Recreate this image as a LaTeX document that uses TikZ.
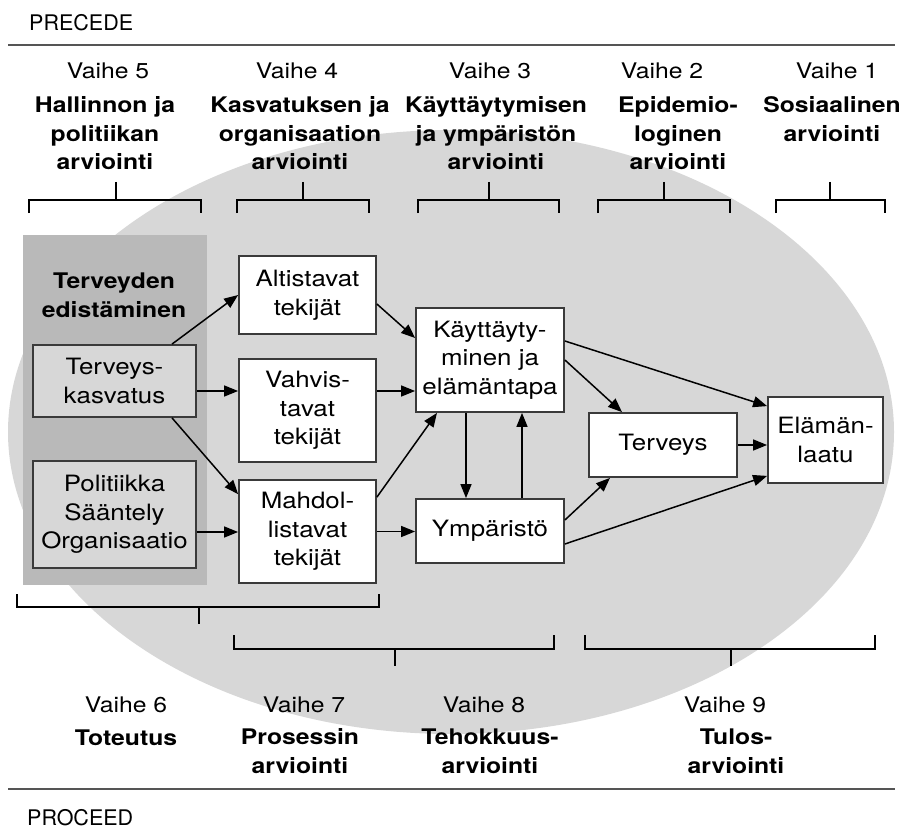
\documentclass[tikz,border=0pt]{standalone}
\usepackage{fontspec}
\setmainfont[FakeStretch=1.15]{TeX Gyre Heros}
\newfontfamily\sidefont{TeX Gyre Heros}
\usetikzlibrary{arrows.meta}

\definecolor{ellgray}{HTML}{D7D7D7}
\definecolor{panelgray}{HTML}{B9B9B9}
\definecolor{edgegray}{HTML}{3A3A3A}
\definecolor{rulegray}{HTML}{555555}
\newcommand\boxfont{\fontsize{22.5}{28.5}\selectfont}

\begin{document}
\begin{tikzpicture}[x=1pt,y=-1pt,
  box/.style={draw=edgegray, line width=1.8pt, fill=white, inner sep=0pt,
    align=center, font=\boxfont},
  graybox/.style={box, fill=ellgray},
  arr/.style={line width=1.5pt, -{Triangle[length=14pt,width=11pt]}},
  bracket/.style={line width=2.6pt, line cap=butt},
  phase/.style={anchor=base, inner sep=0pt, font=\fontsize{21.5}{28}\selectfont},
  stage/.style={anchor=base, inner sep=0pt, align=center,
    font=\fontsize{21.5}{28.5}\selectfont\bfseries},
  side/.style={anchor=base west, inner sep=0pt, font=\sidefont\fontsize{21.5}{24}\selectfont},
]
\useasboundingbox (0,0) rectangle (899,829);

% background ellipse and health promotion panel
\fill[ellgray] (451,432) ellipse [x radius=443, y radius=302];
\fill[panelgray] (23,235) rectangle (207,585);

% rules
\draw[rulegray, line width=2pt] (8,45) -- (895,45);
\draw[rulegray, line width=2pt] (8,789) -- (895,789);
\node[side] (precede) at (29,31) {PRECEDE};
\node[side] (proceed) at (27,825) {PROCEED};

% PRECEDE phases (stage nodes are anchored at the baseline of their last line)
\node[phase] (v5) at (108,79) {Vaihe 5};
\node[phase] (v4) at (297,79) {Vaihe 4};
\node[phase] (v3) at (490,79) {Vaihe 3};
\node[phase] (v2) at (662,79) {Vaihe 2};
\node[phase] (v1) at (837,79) {Vaihe 1};
\node[stage] (s5) at (105,170) {Hallinnon ja\\politiikan\\arviointi};
\node[stage] (s4) at (300,170) {Kasvatuksen ja\\organisaation\\arviointi};
\node[stage] (s3) at (496,170) {Käyttäytymisen\\ja ympäristön\\arviointi};
\node[stage] (s2) at (678,170) {Epidemio-\\loginen\\arviointi};
\node[stage] (s1) at (832,141.5) {Sosiaalinen\\arviointi};

% upper brackets
\foreach \l/\m/\r in {29/116/201, 237/303/369, 418/489/559, 598/664/730, 776/830/885}
  \draw[bracket] (\m,182) -- (\m,200) (\l,213) -- (\l,200) -- (\r,200) -- (\r,213);

% PROCEED phases
\node[phase] (v6) at (126,712) {Vaihe 6};
\node[phase] (v7) at (304,712) {Vaihe 7};
\node[phase] (v8) at (484,712) {Vaihe 8};
\node[phase] (v9) at (725,712) {Vaihe 9};
\node[stage] (s6) at (126,745) {Toteutus};
\node[stage] (s7) at (300,773) {Prosessin\\arviointi};
\node[stage] (s8) at (490,773) {Tehokkuus-\\arviointi};
\node[stage] (s9) at (736,773) {Tulos-\\arviointi};

% lower brackets
\draw[bracket] (17,594) -- (17,607) -- (379,607) -- (379,594) (199,607) -- (199,624);
\draw[bracket] (234,635) -- (234,649) -- (554,649) -- (554,635) (395,649) -- (395,666);
\draw[bracket] (585,635) -- (585,649) -- (875,649) -- (875,635) (731,649) -- (731,666);

% boxes
\node[stage] (promo) at (114,317) {Terveyden\\edistäminen};
\node[graybox, minimum width=163pt, minimum height=72pt] (tk) at (114.5,381) {Terveys-\\kasvatus};
\node[graybox, minimum width=163pt, minimum height=107pt] (pol) at (114.5,514.5) {Politiikka\\Sääntely\\Organisaatio};
\node[box, minimum width=137pt, minimum height=78pt] (alt) at (307.5,295) {Altistavat\\tekijät};
\node[box, minimum width=137pt, minimum height=103pt] (vahvis) at (307.5,410.5) {Vahvis-\\tavat\\tekijät};
\node[box, minimum width=137pt, minimum height=103pt] (mahdol) at (307.5,531.5) {Mahdol-\\listavat\\tekijät};
\node[box, minimum width=148pt, minimum height=104pt] (kayt) at (490,360) {Käyttäyty-\\minen ja\\elämäntapa};
\node[box, minimum width=148pt, minimum height=64pt] (ymp) at (490,531) {Ympäristö};
\node[box, minimum width=148pt, minimum height=64pt] (terv) at (663,445) {Terveys};
\node[box, minimum width=115pt, minimum height=86pt] (elam) at (825.5,440) {Elämän-\\laatu};

% connectors
\coordinate (c2) at ([yshift=-10pt]tk.east);
\coordinate (c4) at ([yshift=-17.5pt]pol.east);
\coordinate (c9) at ([xshift=-24pt]kayt.south);
\coordinate (c10) at ([xshift=32pt]ymp.north);
\draw[arr] ([xshift=57.5pt]tk.north) -- (alt.west);
\draw[arr] (c2) -- (c2 -| vahvis.west);
\draw[arr] ([xshift=57.5pt]tk.south) -- ([yshift=-15pt]mahdol.north west);
\draw[arr] (c4) -- (c4 -| mahdol.west);
\draw[arr] ([yshift=-9pt]alt.east) -- ([yshift=22pt]kayt.west);
\draw[arr] (c2 -| vahvis.east) -- (c2 -| kayt.west);
\draw[arr] ([yshift=-18pt]mahdol.north east) -- ([xshift=-53pt]kayt.south);
\draw[arr] (mahdol.east) -- (mahdol.east -| ymp.west);
\draw[arr] (c9) -- (c9 |- ymp.north);
\draw[arr] (c10) -- (c10 |- kayt.south);
\draw[arr] ([yshift=19pt]kayt.east) -- ([yshift=-10pt]elam.north west);
\draw[arr] (kayt.east) -- ([xshift=-41pt]terv.north);
\draw[arr] (terv.east) -- (terv.east -| elam.west);
\draw[arr] ([yshift=11pt]ymp.east) -- ([xshift=-53pt]terv.south);
\draw[arr] ([yshift=-13pt]ymp.east) -- ([yshift=8pt]elam.south west);
\end{tikzpicture}
\end{document}
